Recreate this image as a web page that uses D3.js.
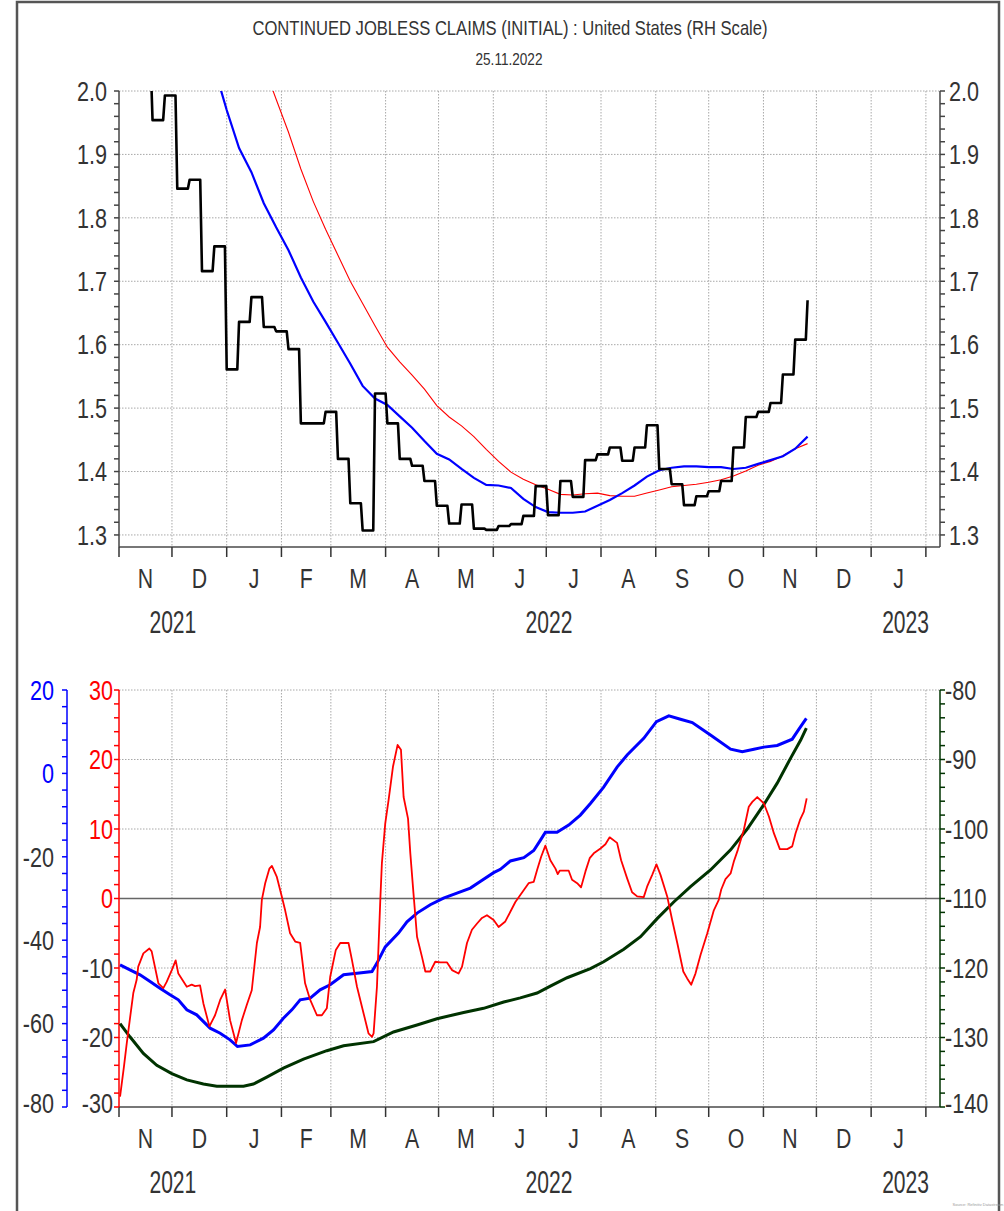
<!DOCTYPE html>
<html>
<head>
<meta charset="utf-8">
<script src="https://cdn.jsdelivr.net/npm/d3@7"></script>
<style>
  body { margin: 0; background: #fff; }
  text { font-family: "Liberation Sans Narrow", "Arial Narrow", "Liberation Sans", sans-serif; fill: #333; }
</style>
</head>
<body>
<svg id="chart" width="1004" height="1211"></svg>
<script>
// ----- data -----
const title = "CONTINUED JOBLESS CLAIMS (INITIAL) : United States (RH Scale)";
const subtitle = "25.11.2022";
const monthLetters = ["J","F","M","A","M","J","J","A","S","O","N","D"];

// top panel, weekly (week ending Saturday, 06.11.2021 .. 26.11.2022), millions
const claims = [2.10, 2.04, 1.954, 1.993, 1.846, 1.860, 1.716, 1.755, 1.561, 1.636,
  1.675, 1.628, 1.621, 1.593, 1.476, 1.476, 1.494, 1.420, 1.350, 1.307,
  1.523, 1.476, 1.420, 1.409, 1.385, 1.346, 1.318, 1.348, 1.310, 1.308,
  1.314, 1.317, 1.330, 1.377, 1.331, 1.385, 1.360, 1.418, 1.427, 1.438,
  1.417, 1.438, 1.473, 1.404, 1.380, 1.347, 1.361, 1.369, 1.385, 1.438,
  1.486, 1.494, 1.508, 1.553, 1.608, 1.670];
const claimsAvgShort = [null, null, null, null, null, null, 2.10, 2.037, 1.97, 1.91,
  1.872, 1.823, 1.785, 1.749, 1.706, 1.668, 1.636, 1.603, 1.570, 1.535,
  1.515, 1.505, 1.487, 1.469, 1.448, 1.428, 1.419, 1.404, 1.390, 1.379,
  1.378, 1.374, 1.357, 1.344, 1.336, 1.335, 1.335, 1.337, 1.346, 1.355,
  1.366, 1.378, 1.392, 1.402, 1.406, 1.408, 1.408, 1.407, 1.407, 1.404,
  1.406, 1.412, 1.418, 1.424, 1.436, 1.455];
const claimsAvgLong = [null, null, null, null, null, null, null, null, null, null,
  null, 2.04, 1.987, 1.935, 1.877, 1.826, 1.782, 1.741, 1.700, 1.665,
  1.630, 1.596, 1.573, 1.552, 1.530, 1.504, 1.486, 1.472, 1.455, 1.435,
  1.416, 1.399, 1.388, 1.379, 1.372, 1.364, 1.363, 1.365, 1.366, 1.362,
  1.361, 1.361, 1.366, 1.371, 1.376, 1.378, 1.380, 1.383, 1.387, 1.393,
  1.401, 1.410, 1.416, 1.425, 1.436, 1.444];

// bottom panel, days after 01.11.2021
const redDays = [0.6, 2.8, 4.4, 8.1, 10.0, 10.9, 13.8, 17.2, 18.5, 22.3, 25.1, 27.0, 29.9, 32.1, 33.6,
  38.4, 41.2, 43.1, 45.9, 47.8, 51.2, 54.4, 57.3, 60.1, 62.9, 66.3, 69.6, 72.4, 75.2, 78.1,
  79.9, 80.9, 82.8, 85.2, 86.6, 89.4, 92.2, 94.1, 96.9, 99.8, 102.6, 105.4, 108.3, 112.1, 114.9,
  117.7, 119.6, 122.8, 125.3, 130.0, 131.9, 134.8, 138.5, 141.3, 143.3, 144.2, 146.1, 148.0, 148.9,
  150.8, 152.7, 155.2, 157.8, 159.7, 161.2, 163.7, 165.0, 166.8, 168.8, 171.6, 173.5, 176.3, 179.1,
  182.0, 185.8, 188.6, 192.3, 194.3, 197.1, 199.9, 202.8, 205.6, 208.4, 212.2, 215.0, 218.8, 224.5,
  227.3, 232.0, 234.9, 236.8, 239.1, 241.5, 244.3, 247.2, 248.5, 249.6, 254.7, 256.6, 259.5, 261.7,
  264.2, 266.6, 268.9, 272.7, 275.5, 277.9, 282.1, 284.4, 287.8, 290.6, 293.5, 297.2, 299.1, 302.0,
  304.4, 306.7, 310.5, 313.3, 316.2, 319.6, 321.8, 324.1, 326.5, 329.4, 333.2, 336.9, 339.7, 341.1,
  343.5, 346.4, 348.2, 350.5, 353.9, 356.7, 358.7, 361.5, 365.2, 368.1, 370.9, 374.3, 378.5, 381.3,
  383.2, 385.7, 387.9, 389.5];
const redValues = [-28.5, -24.2, -20.8, -13.6, -11.7, -9.8, -7.9, -7.2, -7.6, -12.2, -12.9, -12.0, -10.3, -8.9, -10.8,
  -12.7, -12.4, -12.6, -12.5, -15.1, -18.4, -16.8, -14.6, -13.1, -17.5, -20.8, -17.5, -15.3, -13.2, -6.4,
  -4.1, -0.2, 2.2, 4.3, 4.7, 3.1, 0.3, -1.7, -5.0, -6.2, -6.4, -12.2, -14.6, -16.8, -16.8,
  -15.8, -11.3, -7.4, -6.4, -6.4, -8.8, -12.7, -16.5, -19.4, -19.9, -19.4, -12.7, -0.2, 5.1,
  10.8, 14.2, 19.0, 22.1, 21.4, 14.6, 11.5, 6.5, 0.7, -5.5, -8.4, -10.5, -10.5, -9.1,
  -9.2, -9.2, -10.3, -10.8, -9.8, -6.4, -4.5, -3.6, -2.8, -2.4, -3.1, -4.1, -3.3, -0.5,
  0.5, 2.2, 2.4, 4.1, 6.0, 7.6, 5.5, 4.3, 3.5, 4.0, 4.0, 2.7, 2.2, 1.6,
  3.9, 5.8, 6.5, 7.2, 7.8, 8.8, 8.0, 5.5, 2.9, 0.9, 0.3, 0.2, 1.7, 3.4,
  4.9, 3.4, 0.3, -3.1, -6.4, -10.5, -11.5, -12.4, -10.8, -8.1, -5.0, -1.7, -0.2, 1.3,
  2.8, 3.6, 5.3, 7.0, 9.9, 13.2, 13.9, 14.6, 13.7, 11.8, 9.4, 7.1, 7.1, 7.5,
  9.4, 11.3, 12.5, 14.4];

const blueDays = [0.6, 6.2, 11.9, 17.6, 23.2, 28.9, 33.6, 38.4, 44.0, 51.6, 57.3, 62.9, 67.1, 74.3,
  81.8, 87.5, 93.1, 97.9, 102.6, 108.3, 113.9, 119.6, 127.2, 134.8, 143.3, 146.1, 150.8, 158.3,
  163.1, 168.8, 176.3, 183.8, 191.4, 199.0, 204.6, 212.2, 216.0, 221.7, 229.3, 234.9, 238.7, 241.5,
  248.1, 254.7, 261.3, 267.0, 274.5, 282.1, 287.8, 297.2, 304.4, 311.4, 318.0, 324.7, 335.0, 346.4,
  353.0, 359.6, 365.2, 372.8, 381.3, 385.1, 389.3];
const blueValues = [-45.9, -47.1, -48.3, -49.9, -51.5, -53.1, -54.3, -56.7, -57.9, -61.1, -62.3, -63.9, -65.5, -65.1,
  -63.5, -61.5, -58.7, -56.7, -54.3, -53.9, -51.9, -50.7, -48.3, -47.9, -47.5, -45.5, -41.6, -38.3,
  -35.6, -33.5, -31.5, -29.9, -28.7, -27.5, -25.9, -23.8, -23.0, -21.0, -20.2, -18.5, -16.0, -14.1,
  -14.1, -12.4, -10.0, -7.2, -3.3, 1.5, 4.4, 8.4, 12.4, 13.8, 13.0, 12.2, 9.2, 5.8,
  5.2, 5.8, 6.3, 6.7, 8.2, 10.6, 13.2];

const greenDays = [0.6, 6.2, 13.8, 21.4, 29.9, 38.4, 47.8, 55.4, 70.5, 76.1, 83.7, 93.1, 104.5, 117.7,
  127.2, 144.2, 155.5, 168.8, 180.1, 195.2, 206.5, 217.9, 227.3, 236.8, 244.3, 253.8, 267.0, 274.5,
  285.9, 295.4, 304.8, 314.2, 323.7, 335.0, 346.4, 355.8, 365.2, 372.8, 380.4, 386.1, 389.3];
const greenValues = [-128.0, -129.9, -132.3, -134.0, -135.2, -136.1, -136.7, -137.0, -137.0, -136.7, -135.7, -134.4, -133.1, -131.9,
  -131.2, -130.6, -129.2, -128.2, -127.3, -126.4, -125.8, -124.9, -124.3, -123.6, -122.6, -121.4, -120.1, -119.1,
  -117.3, -115.5, -112.9, -110.5, -108.3, -105.9, -103.0, -100.0, -96.5, -93.4, -89.8, -87.2, -85.5];

const topTicks = [2.0, 1.9, 1.8, 1.7, 1.6, 1.5, 1.4, 1.3];
const redTicks = [30, 20, 10, 0, -10, -20, -30];
const blueTicks = [20, 0, -20, -40, -60, -80];
const greenTicks = [-80, -90, -100, -110, -120, -130, -140];
const years = [2021, 2022, 2023];

// ----- layout -----
const svg = d3.select("#chart");
const left = 119, right = 940;
const day = 864e5;
const start = Date.UTC(2021, 10, 1);
const end = Date.UTC(2023, 1, 9);
const weeks = d3.utcSaturday.range(new Date(Date.UTC(2021, 10, 6)), new Date(Date.UTC(2022, 10, 27)));
const toDate = d => new Date(start + d * day);

const x = d3.scaleUtc().domain([start, end]).range([left, right]);
const months = d3.utcMonth.range(new Date(start), new Date(end));
const monthMid = d => (x(d) + x(d3.utcMonth.offset(d, 1))) / 2;

const gridColor = "#a8a8a8";
const textColor = "#333";
// narrow look of the original font
const squeeze = (px, py, s) => `translate(${px},${py}) scale(${s},1)`;

// frame
svg.append("path").attr("d", "M17,1211V2H999V1211")
   .attr("fill", "none").attr("stroke", "#555").attr("stroke-width", 2.5);

svg.append("text").attr("transform", squeeze(510, 35, 0.83)).attr("text-anchor", "middle")
   .attr("font-size", 20).text(title);
svg.append("text").attr("transform", squeeze(509, 65, 0.85)).attr("text-anchor", "middle")
   .attr("font-size", 16).text(subtitle);
svg.append("text").attr("x", 978).attr("y", 1206).attr("text-anchor", "middle")
   .attr("font-size", 4).style("fill", "#999").text("Source: Refinitiv Datastream");

function timeAxis(g, top, bottom, monthY, yearY) {
  // vertical gridlines
  g.append("g").selectAll("line").data(months.slice(1)).join("line")
   .attr("x1", d => x(d)).attr("x2", d => x(d)).attr("y1", top).attr("y2", bottom)
   .attr("stroke", gridColor).attr("stroke-dasharray", "1.5,1.5");
  // base line + ticks
  g.append("line").attr("x1", left).attr("x2", right).attr("y1", bottom).attr("y2", bottom)
   .attr("stroke", "#777").attr("stroke-width", 2);
  g.append("g").selectAll("line").data(months).join("line")
   .attr("x1", d => x(d)).attr("x2", d => x(d)).attr("y1", bottom).attr("y2", bottom + 10)
   .attr("stroke", "#333").attr("stroke-width", 1.5);
  g.append("g").selectAll("text").data(months.filter(d => monthMid(d) < right)).join("text")
   .attr("transform", d => squeeze(monthMid(d), monthY, 0.76))
   .attr("text-anchor", "middle").attr("font-size", 28)
   .text(d => monthLetters[d.getUTCMonth()]);
  g.append("g").selectAll("text").data(years).join("text")
   .attr("transform", yr => {
     const a = Math.max(start, Date.UTC(yr, 0, 1)), b = Math.min(end, Date.UTC(yr + 1, 0, 1));
     return squeeze((x(a) + x(b)) / 2, yearY, 0.68);
   })
   .attr("text-anchor", "middle").attr("font-size", 31)
   .text(yr => yr);
}

function valueAxis(g, scale, xPos, ticks, minorStep, side, color, labelColor, fmt, labelX) {
  const [lo, hi] = scale.domain();
  const minor = d3.range(Math.ceil(lo / minorStep - 1e-6) * minorStep, hi + 1e-6, minorStep);
  const dir = side === "left" ? -1 : 1;
  g.append("line").attr("x1", xPos).attr("x2", xPos)
   .attr("y1", scale(hi)).attr("y2", scale(lo)).attr("stroke", color).attr("stroke-width", 1.5);
  g.append("g").selectAll("line").data(minor).join("line")
   .attr("x1", xPos).attr("x2", xPos + dir * 5)
   .attr("y1", d => scale(d)).attr("y2", d => scale(d))
   .attr("stroke", color).attr("stroke-width", 1.5);
  g.append("g").selectAll("text").data(ticks).join("text")
   .attr("transform", d => squeeze(labelX, Math.min(scale(d), scale(lo) - 4), 0.8))
   .attr("dy", "0.36em")
   .attr("text-anchor", side === "left" ? "end" : "start")
   .attr("font-size", 27)
   .style("fill", labelColor)
   .text(fmt);
}

// ----- top panel -----
const top1 = 91, bottom1 = 547;
const y1 = d3.scaleLinear().domain([1.281, 2.0]).range([bottom1, top1]);
const p1 = svg.append("g");

svg.append("clipPath").attr("id", "clip1").append("rect")
   .attr("x", left).attr("y", top1).attr("width", right - left).attr("height", bottom1 - top1);

p1.append("g").selectAll("line").data(topTicks).join("line")
  .attr("x1", left).attr("x2", right).attr("y1", d => y1(d)).attr("y2", d => y1(d))
  .attr("stroke", gridColor).attr("stroke-dasharray", "1.5,1.5");
timeAxis(p1, top1, bottom1, 588, 633);
valueAxis(p1, y1, left, topTicks, 0.02, "left", "#444", textColor, d => d.toFixed(1), 107);
valueAxis(p1, y1, right, topTicks, 0.02, "right", "#444", textColor, d => d.toFixed(1), 949);

const weekLine = d3.line().defined(d => d.v != null).x(d => x(d.t)).y(d => y1(d.v));
const lines1 = p1.append("g").attr("clip-path", "url(#clip1)");

lines1.append("path")
  .attr("d", weekLine(claimsAvgLong.map((v, i) => ({ t: weeks[i], v }))))
  .attr("fill", "none").attr("stroke", "#ff0000").attr("stroke-width", 1.1);
lines1.append("path")
  .attr("d", weekLine(claimsAvgShort.map((v, i) => ({ t: weeks[i], v }))))
  .attr("fill", "none").attr("stroke", "#0000ff").attr("stroke-width", 2.2);

// weekly value held for the week, then a one-day move to the next value
const steps = [];
claims.forEach((v, i) => {
  steps.push({ t: weeks[i], v });
  if (i < claims.length - 1) steps.push({ t: d3.utcDay.offset(weeks[i], 6), v });
});
lines1.append("path").attr("d", weekLine(steps))
  .attr("fill", "none").attr("stroke", "#000").attr("stroke-width", 2.6)
  .attr("stroke-linejoin", "round");

// ----- bottom panel -----
const top2 = 690, bottom2 = 1107;
const yRed = d3.scaleLinear().domain([-30, 30]).range([bottom2, top2]);
const yBlue = d3.scaleLinear().domain([-80, 20]).range([bottom2, top2]);
const yGreen = d3.scaleLinear().domain([-140, -80]).range([bottom2, top2]);
const p2 = svg.append("g");

svg.append("clipPath").attr("id", "clip2").append("rect")
   .attr("x", left).attr("y", top2).attr("width", right - left).attr("height", bottom2 - top2);

p2.append("g").selectAll("line").data(redTicks.filter(d => d !== 0 && d !== -30)).join("line")
  .attr("x1", left).attr("x2", right).attr("y1", d => yRed(d)).attr("y2", d => yRed(d))
  .attr("stroke", gridColor).attr("stroke-dasharray", "1.5,1.5");
timeAxis(p2, top2, bottom2, 1148, 1193);
p2.append("line").attr("x1", left).attr("x2", right).attr("y1", yRed(0)).attr("y2", yRed(0))
  .attr("stroke", "#666").attr("stroke-width", 1.5);

valueAxis(p2, yRed, left, redTicks, 2, "left", "#ff0000", d => d >= 0 ? "#ff0000" : textColor, d => d, 113);
valueAxis(p2, yBlue, 67, blueTicks, 4, "left", "#0000ff", d => d >= 0 ? "#0000ff" : textColor, d => d, 54);
valueAxis(p2, yGreen, right, greenTicks, 2, "right", "#003300", textColor, d => d, 945);

const lines2 = p2.append("g").attr("clip-path", "url(#clip2)");
const dayLine = scale => d3.line().x(d => x(toDate(d[0]))).y(d => scale(d[1]));

lines2.append("path").attr("d", dayLine(yGreen)(d3.zip(greenDays, greenValues)))
  .attr("fill", "none").attr("stroke", "#003300").attr("stroke-width", 3);
lines2.append("path").attr("d", dayLine(yBlue)(d3.zip(blueDays, blueValues)))
  .attr("fill", "none").attr("stroke", "#0000ff").attr("stroke-width", 3);
lines2.append("path").attr("d", dayLine(yRed)(d3.zip(redDays, redValues)))
  .attr("fill", "none").attr("stroke", "#ff0000").attr("stroke-width", 1.8)
  .attr("stroke-linejoin", "round");
</script>
</body>
</html>
